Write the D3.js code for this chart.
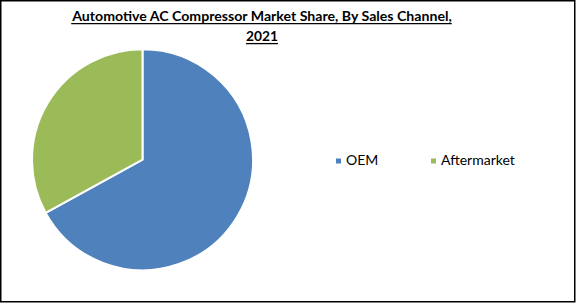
<!DOCTYPE html>
<html><head><meta charset="utf-8">
<script src="https://d3js.org/d3.v7.min.js"></script>
<style>html,body{margin:0;padding:0;background:#fff;overflow:hidden}</style>
</head><body>
<svg id="c" width="576" height="304"></svg>
<script>
const categories = ["OEM", "Aftermarket"];
const shares = [67, 33];
const colors = ["#4F81BD", "#9BBB59"];
const titleLines = ["Automotive AC Compressor Market Share, By Sales Channel,", "2021"];

const svg = d3.select("#c");
svg.append("rect").attr("x",0.75).attr("y",0.75).attr("width",574).attr("height",301)
  .attr("fill","#fff").attr("stroke","#000").attr("stroke-width",1.5);

const font = "Lato, 'Open Sans', sans-serif";
const t = svg.append("g");
titleLines.forEach((s,i)=>{
  const y = 21.3 + i*20;
  const tx = t.append("text").attr("x",262).attr("y",y).attr("text-anchor","middle")
    .attr("font-family",font).attr("font-weight","bold").attr("font-size",15)
    .attr("fill","#000").text(s);
  const w = tx.node().getComputedTextLength();
  const target = i===0 ? 380 : 32;
  const fs = 15*target/w;
  tx.attr("font-size", Math.min(Math.max(fs,13),17));
  const bb = tx.node().getBBox();
  t.append("line").attr("x1",bb.x).attr("x2",bb.x+bb.width)
    .attr("y1",y+2.3).attr("y2",y+2.3).attr("stroke","#000").attr("stroke-width",1.3);
});

const pie = d3.pie().sort(null).value(d=>d)(shares);
const arc = d3.arc().innerRadius(0).outerRadius(110.5);
svg.append("g").attr("transform","translate(142.5,159.7)")
  .selectAll("path").data(pie).join("path")
  .attr("d",arc).attr("fill",(d,i)=>colors[i])
  .attr("stroke","#fff").attr("stroke-width",2).attr("stroke-linejoin","round");

const lx = [336, 431];
const lg = svg.append("g");
categories.forEach((c,i)=>{
  lg.append("rect").attr("x",lx[i]).attr("y",158.5).attr("width",5).attr("height",5).attr("fill",colors[i]);
  lg.append("text").attr("x",lx[i]+10).attr("y",165).attr("font-family",font)
    .attr("font-size",14).attr("fill","#000").text(c);
});
</script>
</body></html>
